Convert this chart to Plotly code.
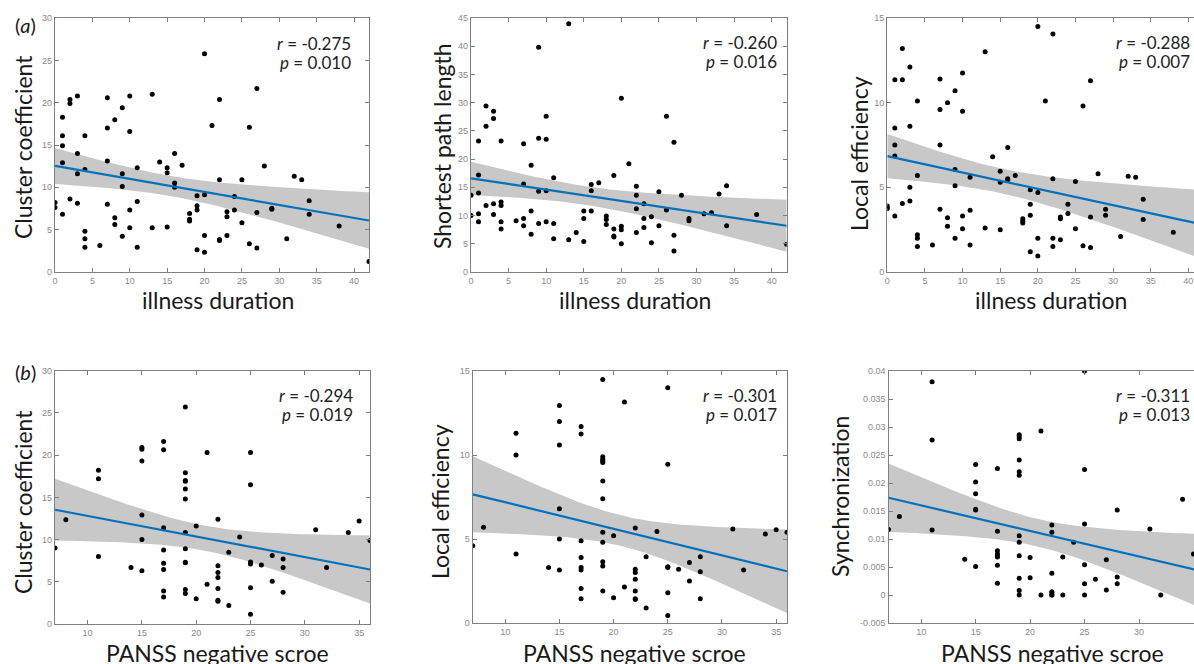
import numpy as np
import plotly.graph_objects as go

W, H = 1194, 664

# ---------------- data ----------------
illness_duration = [0, 0, 1, 1, 1, 1, 1, 2, 2, 2, 3, 3, 3, 3, 4, 4, 4, 4, 4, 6,
                    7, 7, 7, 7, 8, 8, 8, 9, 9, 9, 9, 10, 10, 10, 10, 11, 11, 11, 13, 13,
                    14, 15, 15, 15, 16, 16, 16, 17, 18, 18, 18, 19, 19, 19, 19, 20, 20, 20, 20, 21,
                    22, 22, 22, 22, 23, 23, 23, 24, 24, 25, 25, 26, 26, 27, 27, 27, 28, 29, 29, 31,
                    32, 33, 34, 34, 38, 42]

cluster_coef_a = [8.2, 7.6, 18.3, 16.1, 14.9, 12.9, 6.8, 20.4, 19.9, 8.6, 20.8, 14.0, 11.6, 8.1,
                  16.1, 12.1, 4.8, 3.9, 2.9, 3.1, 20.6, 17.0, 13.1, 8.0, 18.0, 6.4, 5.6,
                  19.4, 11.6, 10.1, 4.2, 20.8, 16.6, 7.3, 5.2, 12.3, 8.3, 2.9, 21.0, 5.2,
                  13.0, 12.3, 11.7, 5.3, 14.0, 10.5, 10.0, 12.6, 6.9, 6.2, 6.0,
                  9.0, 7.8, 7.3, 2.6, 25.8, 9.1, 4.3, 2.3, 17.3, 20.4, 10.9, 3.8, 3.7,
                  7.1, 6.5, 4.3, 8.9, 7.3, 10.9, 5.8, 17.1, 3.3, 21.7, 7.0, 2.8, 12.5,
                  7.5, 7.4, 3.9, 11.3, 10.9, 8.4, 6.8, 5.4, 1.2]

shortest_path_a = [13.6, 10.0, 23.2, 17.2, 14.0, 10.3, 8.9, 29.4, 25.8, 11.8, 28.5, 27.2, 12.1, 10.2,
                   23.2, 12.4, 11.8, 8.9, 7.6, 9.1, 22.7, 15.6, 9.5, 8.2, 18.9, 10.8, 6.7,
                   39.8, 23.7, 14.3, 8.6, 27.6, 23.5, 14.4, 8.9, 16.7, 8.6, 5.9, 44.0, 5.7,
                   7.0, 10.8, 9.5, 5.4, 15.5, 14.4, 10.8, 15.8, 9.9, 9.3, 8.4,
                   17.1, 7.6, 6.4, 6.2, 30.8, 8.1, 7.5, 5.0, 19.2, 15.2, 13.6, 11.2, 7.0,
                   12.1, 9.5, 7.9, 9.8, 5.2, 14.2, 8.2, 27.6, 11.0, 23.0, 6.5, 3.7, 13.6,
                   9.5, 9.1, 10.3, 10.5, 13.8, 15.3, 8.2, 10.2, 4.9]

local_eff_a = [3.9, 3.75, 11.35, 8.5, 7.5, 6.85, 3.3, 13.2, 11.35, 4.05, 12.1, 8.6, 5.0, 4.2,
               10.1, 5.7, 2.2, 2.0, 1.5, 1.6, 11.4, 9.6, 7.5, 3.7, 10.0, 3.2, 2.7,
               10.7, 6.05, 5.1, 2.0, 11.75, 9.5, 3.3, 2.55, 5.6, 3.65, 1.6, 13.0, 2.6,
               6.8, 5.95, 5.3, 2.5, 7.35, 5.5, 5.45, 5.7, 3.15, 3.0, 2.9,
               4.85, 4.0, 3.35, 1.2, 14.5, 4.7, 2.0, 0.95, 10.1, 14.05, 5.5, 2.0, 1.5,
               3.25, 3.15, 1.9, 4.0, 3.45, 5.35, 2.55, 9.8, 1.55, 11.3, 3.25, 1.45, 5.8,
               3.7, 3.35, 2.1, 5.65, 5.6, 4.3, 3.1, 2.35, 0.6]

panss_negative = [7, 8, 11, 11, 11, 14, 15, 15, 15, 15, 15, 15,
                  17, 17, 17, 17, 17, 17, 17, 17,
                  19, 19, 19, 19, 19, 19, 19, 19, 19, 19, 19, 19,
                  20, 20, 21, 21, 22, 22, 22, 22, 22, 22, 22, 23, 23, 24,
                  25, 25, 25, 25, 25, 25, 26, 27, 27, 28, 28, 28, 31, 32, 34, 35, 36]

cluster_coef_b = [9.0, 12.35, 18.2, 17.2, 8.0, 6.7, 20.9, 20.7, 19.3, 12.9, 10.0, 6.3,
                  21.6, 20.65, 11.4, 8.75, 7.2, 6.45, 3.9, 3.2,
                  25.7, 17.9, 17.0, 16.9, 16.0, 14.8, 10.85, 8.9, 7.3, 7.25, 4.1, 3.6,
                  11.6, 3.0, 20.3, 4.7, 12.4, 6.9, 6.1, 5.5, 4.2, 2.8, 2.7, 8.5, 2.2, 10.3,
                  20.3, 16.5, 7.35, 7.1, 4.3, 1.15, 7.0, 8.1, 5.05, 7.7, 6.7, 3.75,
                  11.15, 6.7, 10.85, 12.2, 9.9]

local_eff_b = [4.6, 5.7, 11.3, 10.0, 4.1, 3.3, 12.95, 12.0, 10.6, 6.8, 5.0, 3.15,
               11.7, 11.25, 4.9, 3.9, 3.3, 3.15, 2.05, 1.45,
               14.5, 9.9, 9.75, 9.65, 9.55, 8.45, 7.4, 5.4, 4.8, 3.65, 3.4, 1.9,
               5.2, 1.5, 13.15, 2.15, 5.65, 3.2, 3.0, 2.6, 1.9, 1.45, 1.4, 3.95, 0.9, 5.45,
               14.0, 9.45, 3.35, 3.3, 1.8, 0.45, 3.2, 3.6, 2.5, 3.95, 3.05, 1.45,
               5.6, 3.15, 5.3, 5.55, 5.4]

synchronization_b = [0.0117, 0.0140, 0.0381, 0.0277, 0.0116, 0.0064,
                     0.0233, 0.0202, 0.0181, 0.0153, 0.0152, 0.0051,
                     0.0226, 0.0114, 0.0079, 0.0073, 0.0070, 0.0068, 0.0053, 0.0021,
                     0.0286, 0.0283, 0.0279, 0.0241, 0.0220, 0.0214, 0.0106, 0.0094, 0.0070, 0.0030, 0.0008, 0.0,
                     0.0067, 0.0031, 0.0293, 0.0, 0.0125, 0.0112, 0.0039, 0.0006, 0.0004, 0.0, 0.0,
                     0.0068, 0.0, 0.0094,
                     0.0400, 0.0224, 0.0127, 0.0054, 0.0020, 0.0, 0.0028, 0.0063, 0.0009,
                     0.0152, 0.0032, 0.0020, 0.0118, 0.0, 0.0171, 0.0073, 0.0075]

r_labels = ["-0.275", "-0.260", "-0.288", "-0.294", "-0.301", "-0.311"]
p_labels = ["0.010", "0.016", "0.007", "0.019", "0.017", "0.013"]
y_titles = ["Cluster coefficient", "Shortest path length", "Local efficiency",
            "Cluster coefficient", "Local efficiency", "Synchronization"]
x_titles = ["illness duration", "illness duration", "illness duration",
            "PANSS negative scroe", "PANSS negative scroe", "PANSS negative scroe"]
row_labels = ["(<i>a</i>)", "(<i>b</i>)"]

sync_tickvals = [-0.005, 0, 0.005, 0.01, 0.015, 0.02, 0.025, 0.03, 0.035, 0.04]
sync_ticktext = ["-0.005", "0", "0.005", "0.01", "0.015", "0.02", "0.025", "0.03", "0.035", "0.04"]

panels = [
    (illness_duration, cluster_coef_a),
    (illness_duration, shortest_path_a),
    (illness_duration, local_eff_a),
    (panss_negative, cluster_coef_b),
    (panss_negative, local_eff_b),
    (panss_negative, synchronization_b),
]

# ---------------- layout geometry (pixels) ----------------
# (left, right, top, bottom) of each plot area, x range, y range
geom = [
    (55, 369, 18.3, 271.7, [0, 42], [0, 30]),
    (471, 786.7, 18, 272, [0, 42], [0, 45]),
    (887.3, 1194, 18, 272, [0, 40.75], [0, 15]),
    (55, 370, 370.7, 624, [7, 36], [0, 30]),
    (472.7, 787, 371, 623, [7, 36], [0, 15]),
    (888.5, 1194, 371, 623, [7, 35.05], [-0.005, 0.04]),
]
ytitle_pos = [(23, 147), (442, 146), (859, 154), (23, 502), (440, 502), (840, 497)]
xtitle_pos = [(218, 300), (635, 300), (1051, 300), (217, 653), (634, 653), (1052, 653)]
stat_pos = [(353, 43, 62), (779, 42, 61), (1192, 42, 61),
            (355, 395, 414), (779, 395, 414), (1192, 395, 414)]


def px(x):
    return x / W


def py(y):
    return 1 - y / H


def t975(df):
    z = 1.959964
    return z + (z**3 + z) / (4 * df) + (5 * z**5 + 16 * z**3 + 3 * z) / (96 * df**2)


fig = go.Figure()
grey = "#808080"
layout = dict(
    width=W, height=H, margin=dict(l=0, r=0, t=0, b=0, autoexpand=False),
    paper_bgcolor="white", plot_bgcolor="white", showlegend=False,
)
annotations = []

for i, ((xs, ys), g) in enumerate(zip(panels, geom)):
    k = "" if i == 0 else str(i + 1)
    xa, ya = "x" + k, "y" + k
    l, r, t, b, xr, yr = g
    x = np.asarray(xs, float)
    y = np.asarray(ys, float)
    n = len(x)
    xm = x.mean()
    sxx = ((x - xm) ** 2).sum()
    slope = ((x - xm) * (y - y.mean())).sum() / sxx
    icpt = y.mean() - slope * xm
    res = y - (icpt + slope * x)
    s = np.sqrt((res ** 2).sum() / (n - 2))
    xg = np.linspace(x.min(), x.max(), 120)
    yg = icpt + slope * xg
    half = t975(n - 2) * s * np.sqrt(1 / n + (xg - xm) ** 2 / sxx)

    fig.add_trace(go.Scatter(
        x=np.concatenate([xg, xg[::-1]]), y=np.concatenate([yg + half, (yg - half)[::-1]]),
        fill="toself", fillcolor="#c8c8c8", line=dict(width=0), mode="lines",
        hoverinfo="skip", xaxis=xa, yaxis=ya))
    fig.add_trace(go.Scatter(
        x=x, y=y, mode="markers", marker=dict(color="black", size=5),
        xaxis=xa, yaxis=ya))
    fig.add_trace(go.Scatter(
        x=xg, y=yg, mode="lines", line=dict(color="#0072BD", width=2.2),
        xaxis=xa, yaxis=ya))

    right_cut = i in (2, 5)
    axis_common = dict(
        showgrid=False, zeroline=False, showline=True, linecolor=grey, linewidth=1.3,
        ticks="inside", ticklen=4, tickcolor=grey, tickwidth=1, automargin=False,
        tickfont=dict(family="Liberation Sans, Arial", size=9, color="#8a8a8a"),
    )
    xaxis = dict(axis_common, domain=[px(l), min(px(r), 1)], range=xr, dtick=5,
                 tick0=0, anchor=ya, mirror="ticks")
    yaxis = dict(axis_common, domain=[py(b), py(t)], range=yr,
                 anchor=xa, mirror=False if right_cut else "ticks")
    if i == 5:
        yaxis.update(tickmode="array", tickvals=sync_tickvals, ticktext=sync_ticktext)
    else:
        yaxis.update(dtick=5, tick0=0)
    layout["xaxis" + k] = xaxis
    layout["yaxis" + k] = yaxis

    tfont = dict(family="Lato, Open Sans, sans-serif", size=23, color="#1a1a1a")
    annotations.append(dict(text=y_titles[i], x=px(ytitle_pos[i][0]), y=py(ytitle_pos[i][1]),
                            xref="paper", yref="paper", showarrow=False, textangle=-90,
                            xanchor="center", yanchor="middle", font=tfont))
    annotations.append(dict(text=x_titles[i], x=px(xtitle_pos[i][0]), y=py(xtitle_pos[i][1]),
                            xref="paper", yref="paper", showarrow=False,
                            xanchor="center", yanchor="middle", font=tfont))
    sfont = dict(family="Lato, Open Sans, sans-serif", size=17, color="#222222")
    sx, ry, pyy = stat_pos[i]
    annotations.append(dict(text="<i>r</i> = " + r_labels[i], x=px(sx), y=py(ry),
                            xref="paper", yref="paper", showarrow=False,
                            xanchor="right", yanchor="middle", font=sfont))
    annotations.append(dict(text="<i>p</i> = " + p_labels[i], x=px(sx), y=py(pyy),
                            xref="paper", yref="paper", showarrow=False,
                            xanchor="right", yanchor="middle", font=sfont))

for lab, (lx, ly) in zip(row_labels, [(25, 25), (25, 372)]):
    annotations.append(dict(text=lab, x=px(lx), y=py(ly), xref="paper", yref="paper",
                            showarrow=False, xanchor="center", yanchor="middle",
                            font=dict(family="Lato, Open Sans, sans-serif", size=20, color="#1a1a1a")))

layout["annotations"] = annotations
fig.update_layout(**layout)
fig.write_html("out.html", config={"displayModeBar": False},
               post_script="document.body.style.margin='0px';")
